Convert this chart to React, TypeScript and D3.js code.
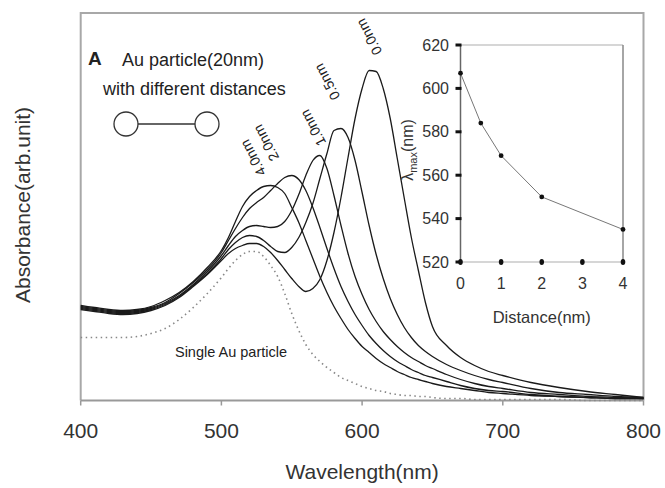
import React from 'react';
import * as d3 from 'd3';

// Wavelength grid (nm)
const wavelengths = [400,410,420,430,440,450,460,470,480,490,500,505,510,515,520,525,530,535,540,545,550,555,560,565,570,575,580,585,590,595,600,605,610,615,620,625,630,635,640,645,650,660,670,680,690,700,720,740,760,780,800];

// Absorbance (arb. unit) for each inter-particle distance
const abs4_0 = [95,93,91,90,91,94,100,108,119,133,150,163,179,194,204,210,214,215,213,207,193,178,160,142,124,108,94,82,71,62,54,48,42,37,33,29,26,23,21,19,17,14,12,10,8,7,5,4,3,2,2];
const abs2_0 = [94,92,90,89,90,93,98,107,118,131,148,160,172,183,192,198,203,210,217,223,225,221,210,193,173,152,132,114,99,86,75,65,57,50,44,39,35,31,28,25,23,19,15,12,10,9,6,4,3,2,2];
const abs1_0 = [93,91,89,88,89,92,97,105,116,129,145,155,164,170,174,175,174,173,174,179,190,206,225,240,245,232,205,175,147,124,106,91,79,69,61,54,48,43,39,35,32,26,21,17,14,12,8,6,4,3,2];
const abs0_5 = [92,90,88,87,88,91,96,104,115,127,142,151,158,163,165,164,160,154,149,148,153,163,178,197,222,247,270,272,263,240,208,175,146,122,102,86,73,63,55,49,44,36,30,25,21,18,12,8,6,4,3];
const abs0_0 = [91,89,87,86,87,90,95,103,114,126,140,147,152,155,157,157,154,148,140,131,122,114,109,112,121,140,168,203,243,282,312,330,329,312,282,242,202,163,130,98,74,55,43,35,29,25,18,13,9,6,3];
const absSingle = [63,63,63,63,64,67,72,81,93,107,123,132,140,146,149,149,144,135,124,107,87,70,56,46,39,33,28,23,20,17,14,12,10,9,7,6,5,5,4,4,3,2,2,1,1,1,1,1,0,0,0];

const seriesNames = ['4.0nm', '2.0nm', '1.0nm', '0.5nm', '0.0nm'];
const seriesValues = [abs4_0, abs2_0, abs1_0, abs0_5, abs0_0];

// Inset: peak wavelength vs distance
const insetDistance = [0, 0.5, 1, 2, 4];
const insetLambdaMax = [607, 584, 569, 550, 535];
const insetYTicks = [520, 540, 560, 580, 600, 620];
const insetXTicks = [0, 1, 2, 3, 4];

const xTicks = [400, 500, 600, 700, 800];

const FONT = 'Liberation Sans, Arial, Helvetica, sans-serif';

// label centres for curve labels (layout)
const labelLayout: Record<string, [number, number]> = {
  '0.0nm': [369, 37],
  '0.5nm': [327, 82],
  '1.0nm': [313, 128],
  '2.0nm': [266, 143],
  '4.0nm': [253, 158],
};

export default function App() {
  const W = 665, H = 488;
  const left = 80.7, right = 643.5, top = 13, bottom = 400.5;
  const x = d3.scaleLinear().domain([400, 800]).range([left, right]);
  const y = d3.scaleLinear().domain([0, 387.5]).range([bottom, top]);

  const line = d3.line<[number, number]>()
    .x(d => x(d[0]))
    .y(d => y(d[1]))
    .curve(d3.curveMonotoneX);

  const toPts = (vals: number[]) => wavelengths.map((w, i) => [w, vals[i]] as [number, number]);

  // inset scales
  const ix = d3.scaleLinear().domain([0, 4]).range([460.5, 623]);
  const iy = d3.scaleLinear().domain([520, 620]).range([262, 45]);
  const iline = d3.line<[number, number]>()
    .x(d => ix(d[0]))
    .y(d => iy(d[1]))
    .curve(d3.curveLinear);
  const insetPts = insetDistance.map((d, i) => [d, insetLambdaMax[i]] as [number, number]);

  const textColor = '#222';

  return (
    <svg width={W} height={H} style={{ position: 'absolute', left: 0, top: 0, background: '#fff' }} fontFamily={FONT}>
      <rect x={0} y={0} width={W} height={H} fill="#fff" />
      {/* frame */}
      <path d={`M${left},${bottom} V${top} H${right} V${bottom}`} fill="none" stroke="#a8a8a8" strokeWidth={2} />
      <line x1={left} x2={right} y1={bottom} y2={bottom} stroke="#999" strokeWidth={2} />
      {xTicks.map(t => (
        <g key={t}>
          <line x1={x(t)} x2={x(t)} y1={bottom} y2={bottom + 5} stroke="#999" strokeWidth={1.5} />
          <text x={x(t)} y={438} textAnchor="middle" fontSize={21} fill="#333">{t}</text>
        </g>
      ))}
      <text x={(left + right) / 2} y={479} textAnchor="middle" fontSize={21} fill="#333">Wavelength(nm)</text>
      <text transform={`translate(30,205) rotate(-90)`} textAnchor="middle" fontSize={21} fill="#333">Absorbance(arb.unit)</text>

      {/* spectra */}
      <path d={line(toPts(absSingle)) || ''} fill="none" stroke="#888" strokeWidth={1.6} strokeDasharray="1.5 3.5" />
      {seriesValues.map((vals, i) => (
        <path key={seriesNames[i]} d={line(toPts(vals)) || ''} fill="none" stroke="#1a1a1a" strokeWidth={1.3} />
      ))}

      {/* curve labels */}
      {seriesNames.map(n => {
        const [cx, cy] = labelLayout[n];
        return (
          <text key={n} transform={`translate(${cx},${cy}) rotate(-118)`} textAnchor="middle" dominantBaseline="central" fontSize={14} fill={textColor}>{n}</text>
        );
      })}

      <text x={231} y={357} textAnchor="middle" fontSize={14.5} fill={textColor}>Single Au particle</text>

      {/* legend A */}
      <text x={88} y={65} fontSize={19} fontWeight="bold" fill={textColor}>A</text>
      <text x={122} y={66} fontSize={18} fill={textColor}>Au particle(20nm)</text>
      <text x={103} y={95} fontSize={18} fill={textColor}>with different distances</text>
      <circle cx={126} cy={124} r={12} fill="#fff" stroke="#333" strokeWidth={1.3} />
      <circle cx={207} cy={124} r={12} fill="#fff" stroke="#333" strokeWidth={1.3} />
      <line x1={138} x2={195} y1={124} y2={124} stroke="#333" strokeWidth={1.3} />

      {/* inset */}
      <line x1={ix(0)} x2={ix(4)} y1={iy(620)} y2={iy(620)} stroke="#c8c8c8" strokeWidth={1.5} />
      <line x1={ix(4)} x2={ix(4)} y1={iy(620)} y2={iy(520)} stroke="#888" strokeWidth={1.5} />
      <line x1={ix(0)} x2={ix(4)} y1={iy(520)} y2={iy(520)} stroke="#c8c8c8" strokeWidth={1.5} />
      <line x1={ix(0)} x2={ix(0)} y1={iy(620)} y2={iy(520)} stroke="#666" strokeWidth={1.5} />
      {insetYTicks.map(t => (
        <g key={t}>
          <line x1={ix(0) - 5} x2={ix(0) + 1} y1={iy(t)} y2={iy(t)} stroke="#111" strokeWidth={3} />
          <text x={449} y={iy(t)} textAnchor="end" dominantBaseline="central" fontSize={16} fill="#333">{t}</text>
        </g>
      ))}
      {insetXTicks.map(t => (
        <g key={t}>
          <ellipse cx={ix(t)} cy={iy(520)} rx={2.3} ry={3} fill="#111" />
          <text x={ix(t)} y={289} textAnchor="middle" fontSize={16} fill="#333">{t}</text>
        </g>
      ))}
      <path d={iline(insetPts) || ''} fill="none" stroke="#777" strokeWidth={1} />
      {insetPts.map((p, i) => (
        <circle key={i} cx={ix(p[0])} cy={iy(p[1])} r={2.4} fill="#111" />
      ))}
      <text x={(ix(0) + ix(4)) / 2} y={323} textAnchor="middle" fontSize={16.5} fill="#333">Distance(nm)</text>
      <text transform={`translate(413,150) rotate(-90)`} textAnchor="middle" fontSize={16} fill="#333">
        λ<tspan fontSize={11} dy={4}>max</tspan><tspan dy={-4}>(nm)</tspan>
      </text>
    </svg>
  );
}
